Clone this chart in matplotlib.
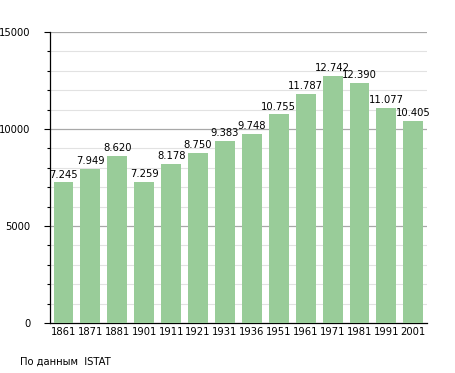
import numpy as np
import matplotlib.pyplot as plt

years = ["1861", "1871", "1881", "1901", "1911", "1921", "1931", "1936",
         "1951", "1961", "1971", "1981", "1991", "2001"]
population = [7245, 7949, 8620, 7259, 8178, 8750, 9383, 9748,
              10755, 11787, 12742, 12390, 11077, 10405]
bar_labels = ["7.245", "7.949", "8.620", "7.259", "8.178", "8.750", "9.383", "9.748",
              "10.755", "11.787", "12.742", "12.390", "11.077", "10.405"]

fig = plt.figure(figsize=(4.55, 3.73), dpi=100)
ax = fig.add_axes([0.110, 0.134, 0.828, 0.780])

x = np.arange(len(years))
ax.bar(x, population, width=0.74, color="#99cc99", zorder=3)

# grid: light lines every 1000, darker every 5000
for v in range(1000, 15001, 1000):
    if v % 5000 == 0:
        ax.axhline(v, color="#a8a8a8", lw=0.9, zorder=1)
    else:
        ax.axhline(v, color="#e2e2e2", lw=0.8, zorder=1)

for i, (v, lab) in enumerate(zip(population, bar_labels)):
    ax.text(i, v + 150, lab, ha="center", va="bottom", fontsize=7.2, zorder=4)

ax.set_xlim(-0.5, len(years) - 0.5)
ax.set_ylim(0, 15000)
ax.set_xticks(x)
ax.set_xticklabels(years, fontsize=7.2)
ax.set_yticks([0, 5000, 10000, 15000])
ax.set_yticklabels(["0", "5000", "10000", "15000"], fontsize=7.2)
ax.set_yticks(np.arange(0, 15001, 1000), minor=True)
ax.tick_params(axis="x", length=0, pad=3)
ax.tick_params(axis="y", which="major", length=4, width=0.8, pad=10)
ax.tick_params(axis="y", which="minor", length=2, width=0.8)

for s in ["top", "right"]:
    ax.spines[s].set_visible(False)
ax.spines["left"].set_linewidth(0.9)
ax.spines["bottom"].set_linewidth(0.9)

fig.text(20 / 455, 1 - 362 / 373, "По данным  ISTAT", fontsize=7.2, va="center")

fig.savefig("out.png", dpi=100)
